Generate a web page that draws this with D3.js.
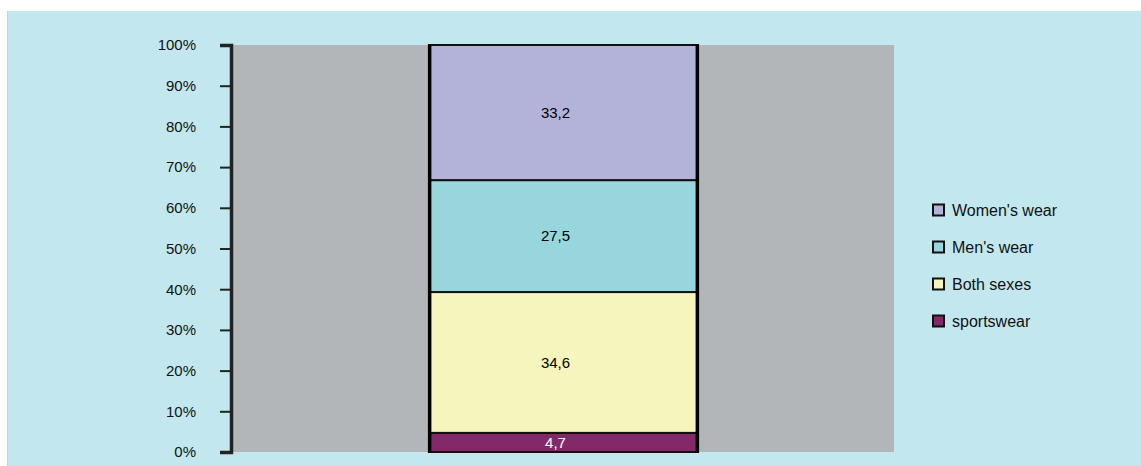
<!DOCTYPE html>
<html>
<head>
<meta charset="utf-8">
<script src="https://cdn.jsdelivr.net/npm/d3@7/dist/d3.min.js"></script>
<style>
  html, body { margin: 0; padding: 0; background: #ffffff; }
  svg { display: block; font-family: "Liberation Sans", Arial, Helvetica, sans-serif; }
</style>
</head>
<body>
<svg id="chart" width="1141" height="466"></svg>
<script>
// Share of clothing market by segment (%), stacked bottom to top
const categories = ["Total"];
const seriesNames = ["sportswear", "Both sexes", "Men's wear", "Women's wear"];
const seriesValues = [4.7, 34.6, 27.5, 33.2];
const valueLabels = ["4,7", "34,6", "27,5", "33,2"];
const seriesColors = ["#832869", "#f6f5bd", "#97d6dc", "#b3b3d9"];
const labelColors = ["#ffffff", "#000000", "#000000", "#000000"];
const yTicks = [0, 10, 20, 30, 40, 50, 60, 70, 80, 90, 100];
const legendOrder = ["Women's wear", "Men's wear", "Both sexes", "sportswear"];

const svg = d3.select("#chart");

// panel background
svg.append("rect").attr("x", 7).attr("y", 11).attr("width", 1134).attr("height", 455)
  .attr("fill", "#c2e7ef");
svg.append("rect").attr("x", 7).attr("y", 11).attr("width", 1).attr("height", 455)
  .attr("fill", "#b4d6ee");

const plot = { left: 233, right: 894, top: 45, bottom: 452 };

const x = d3.scaleBand().domain(categories)
  .range([plot.left, plot.right]).paddingInner(0.4235).paddingOuter(0.4235);
const y = d3.scaleLinear().domain([0, 100]).range([plot.bottom, plot.top]);

// plot area
svg.append("rect").attr("x", plot.left).attr("y", plot.top)
  .attr("width", plot.right - plot.left).attr("height", plot.bottom - plot.top)
  .attr("fill", "#b3b6b8");

// stacked segments
const stackData = [Object.fromEntries(seriesNames.map((n, i) => [n, seriesValues[i]]))];
const stacked = d3.stack().keys(seriesNames)(stackData);

const bx = x(categories[0]);
const bw = x.bandwidth();

const seg = svg.append("g");
stacked.forEach((layer, i) => {
  const d = layer[0];
  seg.append("rect")
    .attr("x", bx).attr("y", y(d[1]))
    .attr("width", bw).attr("height", y(d[0]) - y(d[1]))
    .attr("fill", seriesColors[i])
    .attr("stroke", "#111").attr("stroke-width", 2);
  seg.append("text")
    .attr("x", bx + bw / 2 - 8)
    .attr("y", (y(d[0]) + y(d[1])) / 2)
    .attr("dy", "0.36em")
    .attr("text-anchor", "middle")
    .attr("font-size", 15)
    .attr("fill", labelColors[i])
    .text(valueLabels[i]);
});
// heavier side edges of the column
[bx, bx + bw].forEach(xx => {
  svg.append("line").attr("x1", xx).attr("x2", xx)
    .attr("y1", y(100) - 1).attr("y2", y(0) + 1)
    .attr("stroke", "#000").attr("stroke-width", 3.5);
});

// y axis
const yAxis = d3.axisLeft(y).tickValues(yTicks).tickFormat(d => d + "%")
  .tickSize(11).tickPadding(24);
const ga = svg.append("g").attr("transform", `translate(${plot.left - 2},0)`).call(yAxis);
ga.select(".domain").attr("stroke", "#222").attr("stroke-width", 3.5);
ga.selectAll(".tick line").attr("stroke", "#222").attr("stroke-width", 2);
ga.selectAll(".tick text").attr("font-size", 15).attr("fill", "#111")
  .attr("font-family", "'Liberation Sans', Arial, sans-serif");

// legend
const lg = svg.append("g").attr("transform", "translate(933,210)");
legendOrder.forEach((name, i) => {
  const idx = seriesNames.indexOf(name);
  const row = lg.append("g").attr("transform", `translate(0,${i * 37})`);
  row.append("rect").attr("x", 0).attr("y", -5.5).attr("width", 11).attr("height", 11)
    .attr("fill", seriesColors[idx]).attr("stroke", "#111").attr("stroke-width", 2);
  row.append("text").attr("x", 19).attr("y", 0).attr("dy", "0.36em")
    .attr("font-size", 16).attr("fill", "#111").text(name);
});
</script>
</body>
</html>
